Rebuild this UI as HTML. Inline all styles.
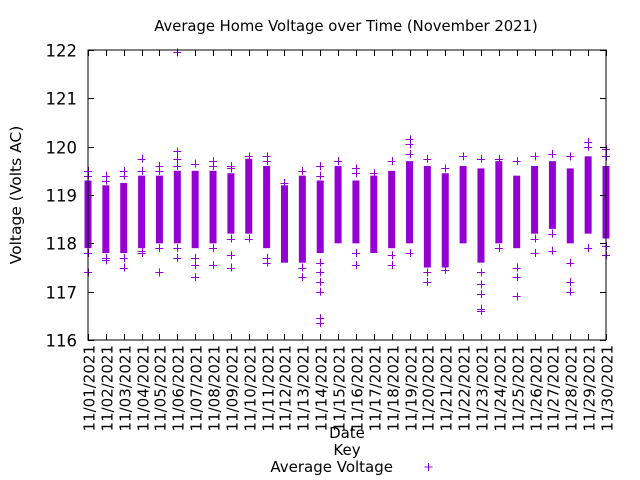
<!DOCTYPE html>
<html><head><meta charset="utf-8"><style>
html,body{margin:0;padding:0;background:#fff;}
svg{display:block;font-family:"DejaVu Sans","Liberation Sans",sans-serif;}
</style></head><body>
<svg id="chart" width="640" height="480" viewBox="0 0 640 480" xmlns="http://www.w3.org/2000/svg">
<text x="346" y="31" font-size="14.8" text-anchor="middle">Average Home Voltage over Time (November 2021)</text>
<text transform="translate(21,195) rotate(-90)" font-size="15.5" text-anchor="middle">Voltage (Volts AC)</text>
<text x="347" y="438" font-size="15" text-anchor="middle">Date</text>
<g>
<text x="347" y="455" font-size="15" text-anchor="middle">Key</text>
<text x="393" y="472" font-size="15" text-anchor="end">Average Voltage</text>
<path d="M424.5 467h8M428.5 463v8" stroke="#9400d3" stroke-width="1"/>
</g>
<g id="marks"></g>
<g id="axes"></g>
</svg>
<script>
const dates=["11/01/2021","11/02/2021","11/03/2021","11/04/2021","11/05/2021","11/06/2021","11/07/2021","11/08/2021","11/09/2021","11/10/2021","11/11/2021","11/12/2021","11/13/2021","11/14/2021","11/15/2021","11/16/2021","11/17/2021","11/18/2021","11/19/2021","11/20/2021","11/21/2021","11/22/2021","11/23/2021","11/24/2021","11/25/2021","11/26/2021","11/27/2021","11/28/2021","11/29/2021","11/30/2021"];
const lows=[117.9,117.8,117.8,117.9,118.0,118.0,117.9,118.0,118.2,118.2,117.9,117.6,117.6,117.8,118.0,118.0,117.8,117.9,118.0,117.5,117.5,118.0,117.6,118.0,117.9,118.2,118.3,118.0,118.2,118.1];
const highs=[119.3,119.2,119.25,119.4,119.4,119.5,119.5,119.5,119.45,119.75,119.6,119.2,119.4,119.3,119.6,119.3,119.4,119.5,119.7,119.6,119.45,119.6,119.55,119.7,119.4,119.6,119.7,119.55,119.8,119.6];
const outliers=[[119.5,119.4,117.8,117.4],[119.4,119.3,117.7,117.65],[119.5,119.4,117.7,117.5],[119.75,119.5,117.85,117.8],[119.6,119.5,117.9,117.4],[121.95,119.9,119.75,119.6,117.9,117.7],[119.65,117.7,117.55,117.3],[119.7,119.6,117.9,117.55],[119.6,119.55,118.1,117.75,117.5],[119.8,118.1],[119.8,119.7,117.7,117.6],[119.25],[119.5,117.5,117.3],[119.6,119.4,117.6,117.4,117.2,117.0,116.45,116.35],[119.7],[119.55,119.45,117.8,117.55],[119.45],[119.7,117.75,117.55],[120.15,120.05,119.85,117.8],[119.75,117.4,117.2],[119.55,117.45],[119.8],[119.75,117.4,117.15,116.95,116.65,116.6],[119.75,117.9],[119.7,117.5,117.3,116.9],[119.8,118.1,117.8],[119.85,118.2,117.85],[119.8,117.6,117.2,117.0],[120.1,120.0,117.9],[119.95,119.8,117.95,117.75]];
const yTicks=[116,117,118,119,120,121,122];

const L=88,R=606,T=50,B=340,yMin=116,yMax=122;
const xs=i=>L+(R-L)*i/(dates.length-1);
const ys=v=>B-(v-yMin)/(yMax-yMin)*(B-T);
const NS="http://www.w3.org/2000/svg";
const marks=document.getElementById('marks'),axes=document.getElementById('axes');
function mk(tag,attrs,parent){const e=document.createElementNS(NS,tag);for(const k in attrs)e.setAttribute(k,attrs[k]);parent.appendChild(e);return e;}
const C="#9400d3";
dates.forEach((d,i)=>{
  const x=xs(i);
  const g=mk('g',{},marks);
  
  
  const r=mk('rect',{x:x-3.5,y:ys(highs[i]),width:7,height:ys(lows[i])-ys(highs[i]),fill:C},g);
  
  
  outliers[i].forEach(v=>{
    const p=mk('path',{d:`M${x-4} ${Math.round(ys(v))+0.5}h8M${Math.round(x)+0.5} ${ys(v)-4}v8`,stroke:C,'stroke-width':1,fill:'none'},g);
    
    
  });
});
const frame=mk('rect',{x:L,y:T,width:R-L,height:B-T,fill:'none',stroke:'#000','stroke-width':1},axes);


yTicks.forEach(v=>{
  const y=Math.round(ys(v))+0.5;
  mk('path',{d:`M${L} ${y}h6M${R} ${y}h-6`,stroke:'#000'},axes);
  const t=mk('text',{x:77,y:y+6,'font-size':16.5,'text-anchor':'end'},axes);
  t.textContent=v;
  
  
});
dates.forEach((d,i)=>{
  const x=Math.round(xs(i))+0.5;
  mk('path',{d:`M${x} ${B}v-6M${x} ${T}v6`,stroke:'#000'},axes);
  const t=mk('text',{transform:`translate(${x+6},345) rotate(-90)`,'font-size':15,'text-anchor':'end'},axes);
  t.textContent=d;
  
  
});
</script>
</body></html>
